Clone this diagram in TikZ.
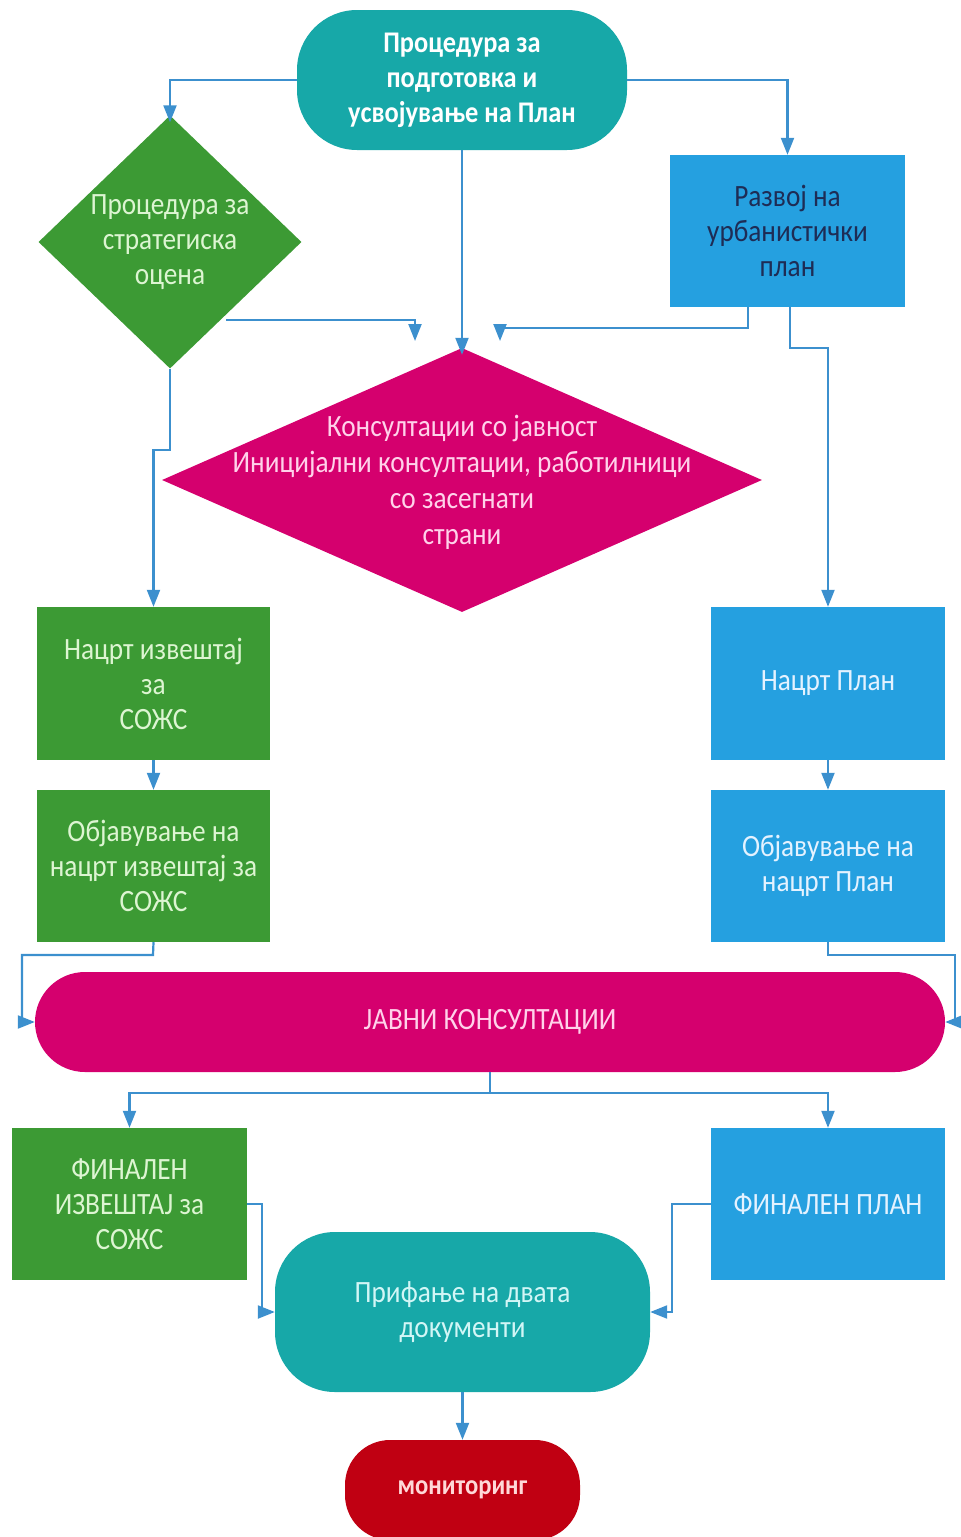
\documentclass[tikz,border=0pt]{standalone}
\usepackage{fontspec}
\setmainfont[FakeStretch=0.88]{Carlito}
\usetikzlibrary{shapes.geometric,arrows.meta,calc}
\definecolor{cteal}{HTML}{17A8A8}
\definecolor{cgreen}{HTML}{3C9A34}
\definecolor{cblue}{HTML}{25A0E0}
\definecolor{cmag}{HTML}{D5006E}
\definecolor{cred}{HTML}{C00012}
\definecolor{cline}{HTML}{3C90CE}
\definecolor{tgreen}{HTML}{DDF5D2}
\definecolor{tblue}{HTML}{E4F2FF}
\definecolor{tnavy}{HTML}{1E2C55}
\definecolor{tpink}{HTML}{FFD2EA}
\definecolor{tteal}{HTML}{D2F6F6}
\definecolor{tred}{HTML}{FFD8D8}
\tikzset{
  base/.style={inner sep=0pt, align=center, font=\fontsize{31}{35}\selectfont},
  term/.style={base, fill=cteal, rounded corners=60pt},
  gbox/.style={base, rectangle, fill=cgreen, text=tgreen},
  bbox/.style={base, rectangle, fill=cblue, text=tblue},
  dia/.style={shape=diamond, inner sep=0pt},
  conn/.style={draw=cline, line width=2.2pt},
  arr/.style={conn, -{Triangle[length=17pt,width=13pt]}},
}
\begin{document}
\begin{tikzpicture}[x=1pt,y=-1pt]
\useasboundingbox (0,0) rectangle (961,1537);
\clip (0,0) rectangle (961,1537);

% nodes
\node[term, minimum width=330pt, minimum height=140pt, text=white, font=\fontsize{30}{35}\selectfont\bfseries] (top) at (462,80)
  {Процедура за\\подготовка и\\усвојување на План};
\node[dia, fill=cgreen, minimum width=263pt, minimum height=253pt] (d1) at (170,242) {};
\node[base, text=tgreen] (d1t) at (170,242) {Процедура за\\стратегиска\\оцена};
\node[bbox, text=tnavy, minimum width=235pt, minimum height=152pt] (b1) at (787.5,231)
  {Развој на\\урбанистички\\план};
\node[dia, fill=cmag, minimum width=600pt, minimum height=264pt] (d2) at (462,480) {};
\node[base, text=tpink, font=\fontsize{31}{36}\selectfont] (d2t) at (462,482)
  {Консултации со јавност\\Иницијални консултации, работилници\\со засегнати\\страни};
\node[gbox, minimum width=233pt, minimum height=153pt] (g1) at (153.5,683.5) {Нацрт извештај\\за\\СОЖС};
\node[gbox, minimum width=233pt, minimum height=152pt] (g2) at (153.5,866) {Објавување на\\нацрт извештај за\\СОЖС};
\node[bbox, minimum width=234pt, minimum height=153pt] (bl1) at (828,683.5) {Нацрт План};
\node[bbox, minimum width=234pt, minimum height=152pt] (bl2) at (828,866) {Објавување на\\нацрт План};
\node[base, fill=cmag, text=tpink, rounded corners=50pt, minimum width=910pt, minimum height=100pt] (pill) at (490,1022) {ЈАВНИ КОНСУЛТАЦИИ};
\node[gbox, minimum width=235pt, minimum height=152pt] (g3) at (129.5,1204) {ФИНАЛЕН\\ИЗВЕШТАЈ за\\СОЖС};
\node[bbox, minimum width=234pt, minimum height=152pt] (bl3) at (828,1204) {ФИНАЛЕН ПЛАН};
\node[term, text=tteal, minimum width=375pt, minimum height=160pt] (acc) at (462.5,1312) {Прифање на двата\\документи};
\node[base, fill=cred, text=tred, rounded corners=45pt, minimum width=235pt, minimum height=100pt, font=\fontsize{28}{32}\selectfont\bfseries] (mon) at (462.5,1490) {мониторинг};

% helper coordinates
\coordinate (c1) at (226,320);
\coordinate (e1) at (415,341);
\coordinate (e2) at (500,341);
\coordinate (s1) at (748,307);
\coordinate (s2) at (790,307);
\coordinate (j1) at (490,1093);

% connectors
\draw[arr] (top.west) -| ([yshift=-7pt]d1.north);
\draw[arr] (top.east) -| (b1.north);
\draw[arr] (top.south) -- ([yshift=-7pt]d2.north);
\draw[arr] (c1) -| (e1);
\draw[arr] (s1) |- (500,328) -- (e2);
\draw[arr] (d1.south) -- (170,450) -| (g1.north);
\draw[arr] (s2) |- (828,348) -- (bl1.north);
\draw[arr] (g1.south) -- (g2.north);
\draw[arr] (bl1.south) -- (bl2.north);
\draw[arr] (g2.south) -- (153,955) -| (22,1022) -- (pill.west);
\draw[arr] (bl2.south) -- (828,955) -| (955,1022) -- (pill.east);
\draw[conn] (pill.south) -- (j1);
\draw[arr] (j1) -| (g3.north);
\draw[arr] (j1) -| (bl3.north);
\draw[arr] (g3.east) -- (262,1204) |- (acc.west);
\draw[arr] (bl3.west) -- (672,1204) |- (acc.east);
\draw[arr] (acc.south) -- (mon.north);
\end{tikzpicture}
\end{document}
